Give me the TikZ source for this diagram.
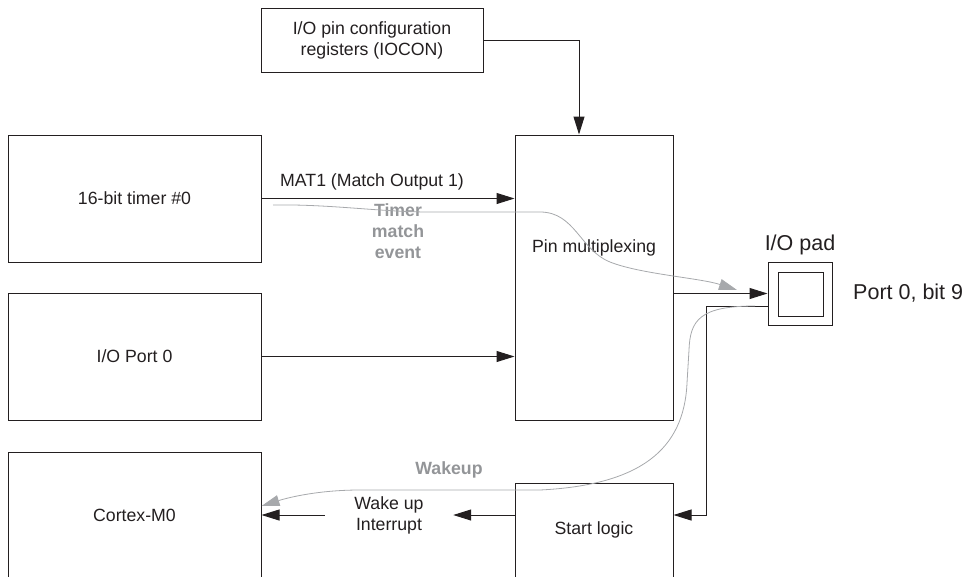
\documentclass[tikz,border=0pt]{standalone}
\usepackage{fontspec}
\setmainfont{Liberation Sans}
\usetikzlibrary{arrows.meta}
\definecolor{ink}{HTML}{231F20}
\definecolor{gtext}{HTML}{939598}
\definecolor{gline}{HTML}{A7A9AC}
\begin{document}
\begin{tikzpicture}[x=1pt,y=-1pt,
  txt/.style={text=ink, font=\fontsize{17.7}{21}\selectfont, align=center, inner sep=0pt},
  box/.style={txt, draw=ink, line width=1pt},
  big/.style={txt, font=\fontsize{21.5}{25}\selectfont},
  glbl/.style={text=gtext, font=\bfseries\fontsize{17.7}{21}\selectfont, align=center, inner sep=0pt},
  conn/.style={draw=ink, line width=1pt, -{Triangle[length=18pt,width=11pt]}},
  gconn/.style={draw=gline, line width=0.8pt, -{Triangle[length=18pt,width=11pt,fill=gline]}}
]
\clip (0,0) rectangle (971,576);
% boxes
\node[box, minimum width=222pt, minimum height=64pt] (iocon) at (372,40) {I/O pin configuration\\registers (IOCON)};
\node[box, minimum width=253pt, minimum height=127pt] (timer) at (134.5,198.5) {16-bit timer \#0};
\node[box, minimum width=253pt, minimum height=127pt] (port) at (134.5,356.5) {I/O Port 0};
\node[box, minimum width=253pt, minimum height=127pt] (cortex) at (134.5,515.5) {Cortex-M0};
\node[box, minimum width=158pt, minimum height=285pt] (pinmux) at (594,277.5) {};
\node[txt] (pmtext) at (594,248) {Pin multiplexing};
\node[box, minimum width=158pt, minimum height=94pt] (start) at (594,530) {Start logic};
\node[box, minimum width=64pt, minimum height=63pt] (pad) at (800,293.5) {};
\node[box, minimum width=45pt, minimum height=44pt] (padin) at (800.5,294) {};
% labels
\node[big] (padlbl) at (800,245) {I/O pad};
\node[big, anchor=west] (bitlbl) at (853,293) {Port 0, bit 9};
\node[txt] (mat) at (372,182) {MAT1 (Match Output 1)};
\node[txt, minimum width=128pt] (wakeint) at (389,515) {Wake up\\Interrupt};
\node[glbl] (tme) at (398,231.5) {Timer\\match\\event};
\node[glbl] (wk) at (449,470) {Wakeup};
% black connectors
\draw[conn] (iocon.east) -| ([xshift=-15pt]pinmux.north);
\draw[conn] (timer.east) -- (timer.east -| pinmux.west);
\draw[conn] (port.east) -- (port.east -| pinmux.west);
\draw[conn] (pad.west -| pinmux.east) -- (pad.west);
\draw[conn] ([yshift=-12.5pt]pad.west) -- (706,306) |- ([yshift=15pt]start.east);
\draw[conn] ([yshift=15pt]start.west) -- (wakeint.east);
\draw[conn] (wakeint.west) -- (wakeint.west -| cortex.east);
% gray flows
\coordinate (gA) at (273,205);
\coordinate (gAend) at (737,290);
\draw[gconn] (gA) .. controls (330,204) and (380,212) .. (430,212) -- (540,212)
  .. controls (575,212) and (580,250) .. (610,262)
  .. controls (640,274) and (700,278) .. (gAend);
\coordinate (gB) at (755,306);
\draw[gconn] (gB) .. controls (700,306) and (690,320) .. (689,350) -- (687,383)
  .. controls (684,450) and (640,485) .. (540,490) -- (360,490)
  .. controls (320,490) and (290,497) .. ([yshift=9.5pt]cortex.east);
\end{tikzpicture}
\end{document}
